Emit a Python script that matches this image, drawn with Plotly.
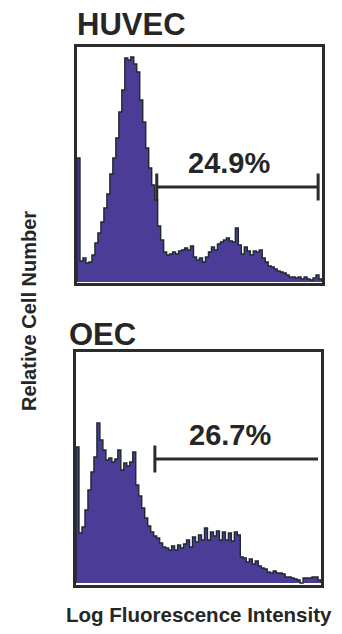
import plotly.graph_objects as go

# Histogram bin heights (relative cell number), 82 log-intensity bins
huvec_counts = [124, 21, 24, 19, 20, 27, 39, 49, 60, 74, 88, 108, 124, 144, 170, 192, 224, 222,
                225, 218, 210, 182, 160, 134, 114, 97, 82, 56, 42, 30, 27, 28, 30, 28, 31, 32,
                34, 32, 36, 25, 22, 24, 20, 25, 30, 35, 32, 38, 40, 42, 44, 41, 40, 54, 37, 28,
                35, 31, 27, 31, 30, 32, 24, 20, 16, 15, 13, 11, 10, 9, 7, 5, 5, 4, 5, 3, 5, 3,
                2, 4, 7, 3]
oec_counts = [136, 50, 56, 73, 93, 111, 126, 160, 143, 133, 123, 125, 121, 124, 133, 113, 120, 117,
              121, 131, 98, 87, 75, 65, 57, 51, 47, 45, 40, 36, 35, 33, 37, 33, 38, 35, 39, 43,
              36, 46, 41, 48, 43, 55, 43, 51, 47, 52, 43, 51, 43, 50, 42, 51, 48, 26, 25, 21,
              24, 19, 22, 17, 15, 14, 11, 10, 12, 10, 10, 9, 6, 6, 5, 4, 3, 0, 5, 5, 5, 6, 6, 3]

titles = ["HUVEC", "OEC"]
percent_labels = ["24.9%", "26.7%"]
gate_start = [26.7, 26.4]
gate_end = [80.7, 81.0]
gate_level = [95, 124]
gate_tick_half = [13.5, 13.5]
gate_right_tick = [True, False]
label_pos_x = [50.8, 51.4]
label_pos_y = [119, 148]

x_title = "Log Fluorescence Intensity"
y_title = "Relative Cell Number"

FILL = "#4b3c97"
OUTLINE = "#1d2a2c"
BOX = "#2b2b2b"
TXT = "#262626"
FONT = "Liberation Sans, Arial, sans-serif"

W, H = 342, 634
nbins = len(huvec_counts)

fig = go.Figure()
panels = [
    dict(counts=huvec_counts, xd=[77 / W, 322 / W], yd=[1 - 283 / H, 1 - 47 / H], yr=[-1, 235]),
    dict(counts=oec_counts, xd=[76 / W, 321 / W], yd=[1 - 585 / H, 1 - 352 / H], yr=[-2, 231]),
]

for k, p in enumerate(panels):
    xs = [0] + list(range(nbins)) + [nbins, nbins]
    ys = [0] + list(p["counts"]) + [p["counts"][-1], 0]
    suffix = "" if k == 0 else str(k + 1)
    fig.add_trace(go.Scatter(
        x=xs, y=ys, mode="lines", line=dict(shape="hv", color=OUTLINE, width=1.4),
        fill="tozeroy", fillcolor=FILL, hoverinfo="skip", showlegend=False,
        xaxis="x" + suffix, yaxis="y" + suffix))
    ax = dict(domain=p["xd"], range=[0, nbins], showgrid=False, zeroline=False,
              showticklabels=False, ticks="", showline=True, mirror=True,
              linecolor=BOX, linewidth=2.5, fixedrange=True)
    ay = dict(domain=p["yd"], range=p["yr"], showgrid=False, zeroline=False,
              showticklabels=False, ticks="", showline=True, mirror=True,
              linecolor=BOX, linewidth=2.5, fixedrange=True)
    if k == 0:
        ax["anchor"] = "y"
        ay["anchor"] = "x"
        fig.update_layout(xaxis=ax, yaxis=ay)
    else:
        ax["anchor"] = "y2"
        ay["anchor"] = "x2"
        fig.update_layout(xaxis2=ax, yaxis2=ay)

    xr, yr = "x" + suffix, "y" + suffix
    # gate line
    fig.add_shape(type="line", xref=xr, yref=yr, x0=gate_start[k], x1=gate_end[k],
                  y0=gate_level[k], y1=gate_level[k], line=dict(color=BOX, width=3))
    fig.add_shape(type="line", xref=xr, yref=yr, x0=gate_start[k], x1=gate_start[k],
                  y0=gate_level[k] - gate_tick_half[k], y1=gate_level[k] + gate_tick_half[k],
                  line=dict(color=BOX, width=3))
    if gate_right_tick[k]:
        fig.add_shape(type="line", xref=xr, yref=yr, x0=gate_end[k], x1=gate_end[k],
                      y0=gate_level[k] - gate_tick_half[k], y1=gate_level[k] + gate_tick_half[k],
                      line=dict(color=BOX, width=3))
    fig.add_annotation(x=label_pos_x[k], y=label_pos_y[k], xref=xr, yref=yr,
                       text="<b>%s</b>" % percent_labels[k], showarrow=False,
                       font=dict(family=FONT, size=29, color=TXT), xanchor="center", yanchor="middle")

fig.add_annotation(x=75 / W, y=1 - 25 / H, xref="paper", yref="paper", text="<b>%s</b>" % titles[0],
                   showarrow=False, xanchor="left", yanchor="middle",
                   font=dict(family=FONT, size=31, color=TXT))
fig.add_annotation(x=67 / W, y=1 - 334 / H, xref="paper", yref="paper", text="<b>%s</b>" % titles[1],
                   showarrow=False, xanchor="left", yanchor="middle",
                   font=dict(family=FONT, size=31, color=TXT))
fig.add_annotation(x=199 / W, y=1 - 614 / H, xref="paper", yref="paper", text="<b>%s</b>" % x_title,
                   showarrow=False, xanchor="center", yanchor="middle",
                   font=dict(family=FONT, size=20.5, color=TXT))
fig.add_annotation(x=29 / W, y=1 - 311 / H, xref="paper", yref="paper", text="<b>%s</b>" % y_title,
                   showarrow=False, xanchor="center", yanchor="middle", textangle=-90,
                   font=dict(family=FONT, size=20, color=TXT))

fig.update_layout(width=W, height=H, margin=dict(l=0, r=0, t=0, b=0),
                  paper_bgcolor="white", plot_bgcolor="white", showlegend=False)

fig.write_html("out.html", config={"displayModeBar": False},
               post_script="document.body.style.margin='0';document.body.style.overflow='hidden';")
